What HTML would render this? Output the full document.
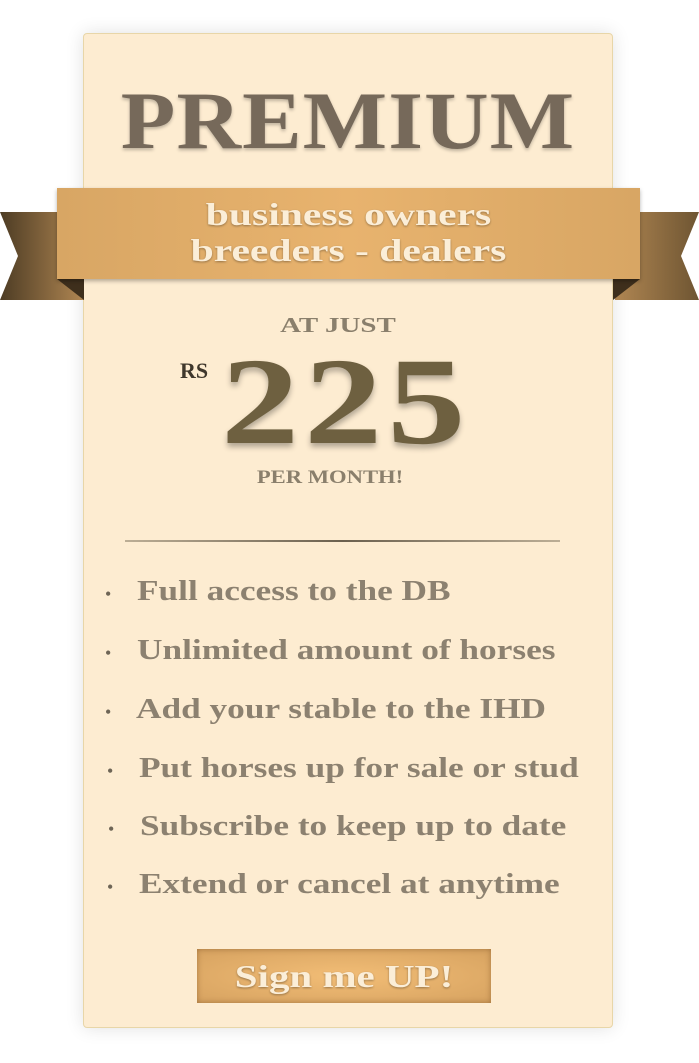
<!DOCTYPE html>
<html><head><meta charset="utf-8"><style>
html,body{margin:0;padding:0;width:699px;height:1063px;background:#fff;overflow:hidden;position:relative;font-family:"Liberation Serif",serif;}
.card{position:absolute;left:83px;top:33px;width:528px;height:993px;background:#fdecd1;border:1px solid #e8d6a8;border-radius:4px;box-shadow:0 0 18px rgba(0,0,0,0.12);}
.abs{position:absolute;}
.title{left:83px;width:530px;top:74px;text-align:center;font-weight:bold;font-size:82px;color:#76695a;letter-spacing:1px;text-shadow:0 2px 3px rgba(0,0,0,0.25);transform:scaleX(1.09);}
.band{left:57px;top:188px;width:583px;height:91px;background:linear-gradient(90deg,#d8a664,#e8b36e 50%,#d8a664);box-shadow:0 2px 4px rgba(0,0,0,0.3);}
.rib{color:#fbeed8;font-weight:bold;font-size:32px;text-align:center;line-height:36px;text-shadow:0 1px 2px rgba(0,0,0,0.35);transform:scaleX(1.3);}
.small{font-weight:bold;color:#8a7f6c;font-size:20px;text-align:center;}
.li{font-weight:bold;font-size:28px;color:#8c8170;transform:scaleX(1.26);transform-origin:left;white-space:nowrap;}
.b{font-size:18px;color:#6e6556;}
</style></head><body>
<div class="card"></div>
<svg class="abs" style="left:0;top:210px" width="699" height="92">
<defs><linearGradient id="gl" x1="0" x2="1"><stop offset="0" stop-color="#4d3c24"/><stop offset="1" stop-color="#b08652"/></linearGradient>
<linearGradient id="gr" x1="0" x2="1"><stop offset="0" stop-color="#b08652"/><stop offset="1" stop-color="#6e5532"/></linearGradient></defs>
<polygon points="0,2 84,2 84,90 0,90 18,46" fill="url(#gl)"/>
<polygon points="57,69 84,90 84,69" fill="#3e2f1c"/>
<polygon points="615,2 699,2 681,46 699,90 615,90" fill="url(#gr)"/>
<polygon points="640,69 613,90 613,69" fill="#3e2f1c"/>
</svg>
<div class="abs title">PREMIUM</div>
<div class="abs band"></div>
<div class="abs rib" style="left:57px;width:583px;top:196px">business owners<br>breeders - dealers</div>
<div class="abs small" style="left:83px;width:510px;top:313px;font-size:21px;transform:scaleX(1.38)">AT JUST</div>
<div class="abs" style="left:180px;top:358px;font-weight:bold;font-size:22px;color:#3f372c">RS</div>
<div class="abs" style="left:221px;top:332px;font-weight:bold;font-size:124px;line-height:140px;color:#6e6040;letter-spacing:4px;text-shadow:0 4px 5px rgba(0,0,0,0.3);transform:scaleX(1.26);transform-origin:left">225</div>
<div class="abs small" style="left:83px;width:494px;top:467px;font-size:19px;transform:scaleX(1.19)">PER MONTH!</div>
<div class="abs" style="left:125px;top:540px;width:435px;height:2px;background:linear-gradient(90deg,rgba(90,80,60,0.4),#6b604e 50%,rgba(90,80,60,0.4))"></div>
<div class="abs b" style="left:105px;top:584px">•</div><div class="abs li" style="left:137px;top:576px">Full access to the DB</div>
<div class="abs b" style="left:105px;top:643px">•</div><div class="abs li" style="left:137px;top:635px">Unlimited amount of horses</div>
<div class="abs b" style="left:105px;top:702px">•</div><div class="abs li" style="left:136px;top:694px">Add your stable to the IHD</div>
<div class="abs b" style="left:107px;top:761px">•</div><div class="abs li" style="left:139px;top:753px">Put horses up for sale or stud</div>
<div class="abs b" style="left:108px;top:819px">•</div><div class="abs li" style="left:140px;top:811px">Subscribe to keep up to date</div>
<div class="abs b" style="left:107px;top:877px">•</div><div class="abs li" style="left:139px;top:869px">Extend or cancel at anytime</div>
<div class="abs" style="left:197px;top:949px;width:294px;height:54px;background:radial-gradient(ellipse at center,#f2bd76,#d6a260);box-shadow:inset 0 0 6px rgba(100,60,20,0.45)"><div style="color:#fbeed8;font-weight:bold;font-size:32px;line-height:54px;text-align:center;text-shadow:0 1px 2px rgba(0,0,0,0.35);transform:scaleX(1.28)">Sign me UP!</div></div>
</body></html>
